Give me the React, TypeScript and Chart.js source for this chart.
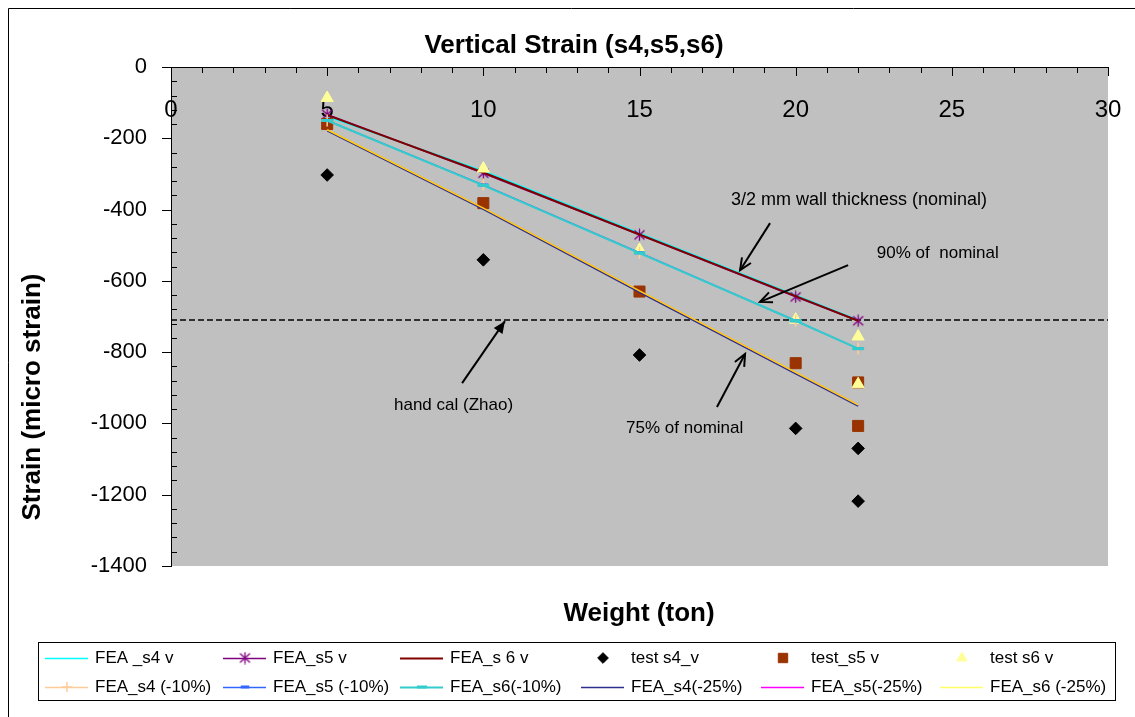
import React, { useEffect, useRef } from 'react';
import { Chart, registerables } from 'chart.js';
import { drawPoint } from 'chart.js/helpers';

Chart.register(...registerables);

// Applied load (ton) for the FEA runs and for the test readings
const weightFEA = [5, 10, 15, 20, 22];
const weightTest = [5, 10, 15, 20, 22, 22];

// FEA results, nominal wall thickness
const feaS4 = [-139, -292, -466, -640, -710];
const feaS5 = [-133, -298, -471, -645, -712];
const feaS6 = [-135, -296, -470, -643, -712];

// Measured strains
const testS4 = [-303, -541, -808, -1014, -1070, -1218];
const testS5 = [-160, -382, -630, -831, -885, -1007];
const testS6 = [-87, -285, -513, -709, -756, -890];

// FEA results, wall thickness reduced by 10 % and 25 %
const feaS4m10 = [-150, -330, -521, -712, -790];
const feaS5m10 = [-150, -331, -521, -712, -790];
const feaS6m10 = [-150, -332, -522, -712, -790];
const feaS4m25 = [-179, -399, -632, -861, -951];
const feaS5m25 = [-176, -396, -628, -857, -948];
const feaS6m25 = [-176, -396, -628, -857, -948];

// Hand calculation (Zhao)
const handCal = -710;

// Axis ranges
const xRange = [0, 30];
const xStep = 5;
const yRange = [-1400, 0];
const yStep = 200;

const FONT = "'Liberation Sans', Arial, Helvetica, sans-serif";

// Callouts, anchored in data units: [x, y]
const callouts = [
  { text: '3/2 mm wall thickness (nominal)', at: [17.93, -373], from: [19.18, -438], to: [18.22, -570], filled: false, size: 18 },
  { text: '90% of  nominal', at: [22.6, -522], from: [21.68, -556], to: [18.86, -659], filled: false, size: 17 },
  { text: 'hand cal (Zhao)', at: [7.14, -948], from: [9.32, -887], to: [10.69, -713], filled: true, size: 17 },
  { text: '75% of nominal', at: [14.57, -1014], from: [17.48, -954], to: [18.38, -805], filled: false, size: 17 },
];

const pts = (xs: number[], ys: number[]) => xs.map((x, i) => ({ x, y: ys[i] }));

function makeStar(color: string) {
  const c = document.createElement('canvas');
  c.width = 13;
  c.height = 13;
  const g = c.getContext('2d')!;
  g.strokeStyle = color;
  g.lineWidth = 1.3;
  g.beginPath();
  g.moveTo(6.5, 0.5);
  g.lineTo(6.5, 12.5);
  g.moveTo(1.5, 2);
  g.lineTo(11.5, 11);
  g.moveTo(11.5, 2);
  g.lineTo(1.5, 11);
  g.stroke();
  return c;
}

function drawArrow(ctx: CanvasRenderingContext2D, x1: number, y1: number, x2: number, y2: number, filled: boolean) {
  const ang = Math.atan2(y2 - y1, x2 - x1);
  const L = 13;
  const spread = 0.42;
  const ax = x2 - L * Math.cos(ang - spread);
  const ay = y2 - L * Math.sin(ang - spread);
  const bx = x2 - L * Math.cos(ang + spread);
  const by = y2 - L * Math.sin(ang + spread);
  ctx.beginPath();
  ctx.moveTo(x1, y1);
  ctx.lineTo(x2, y2);
  ctx.stroke();
  ctx.beginPath();
  ctx.moveTo(ax, ay);
  ctx.lineTo(x2, y2);
  ctx.lineTo(bx, by);
  if (filled) {
    ctx.closePath();
    ctx.fill();
  } else {
    ctx.stroke();
  }
}

const decorPlugin = {
  id: 'decor',
  beforeDraw(chart: any) {
    const { ctx, chartArea: a, width, height } = chart;
    ctx.save();
    ctx.fillStyle = '#ffffff';
    ctx.fillRect(0, 0, width, height);
    ctx.fillStyle = '#C0C0C0';
    ctx.fillRect(a.left, a.top, a.right - a.left, a.bottom - a.top);
    ctx.strokeStyle = '#000';
    ctx.lineWidth = 1;
    ctx.beginPath();
    ctx.moveTo(0.5, height);
    ctx.lineTo(0.5, 0.5);
    ctx.lineTo(width, 0.5);
    ctx.stroke();
    ctx.restore();
  },
  afterDatasetsDraw(chart: any) {
    const { ctx, chartArea: a, scales } = chart;
    const xs = scales.x;
    const ys = scales.y;
    ctx.save();
    // axis tick marks (major and minor)
    ctx.strokeStyle = '#000';
    ctx.lineWidth = 1;
    ctx.beginPath();
    for (let v = xRange[0]; v <= xRange[1]; v += 1) {
      const px = Math.round(xs.getPixelForValue(v)) + 0.5;
      const len = v % xStep === 0 ? 9 : 6;
      ctx.moveTo(px, a.top);
      ctx.lineTo(px, a.top + len);
    }
    for (let v = yRange[1]; v >= yRange[0]; v -= 40) {
      const py = Math.round(ys.getPixelForValue(v)) + 0.5;
      if (v % yStep === 0) {
        ctx.moveTo(a.left - 9, py);
        ctx.lineTo(a.left, py);
      } else {
        ctx.moveTo(a.left, py);
        ctx.lineTo(a.left + 6, py);
      }
    }
    ctx.stroke();

    // callouts
    ctx.fillStyle = '#000';
    ctx.strokeStyle = '#000';
    ctx.lineWidth = 2;
    ctx.textAlign = 'left';
    ctx.textBaseline = 'middle';
    for (const c of callouts) {
      drawArrow(
        ctx,
        xs.getPixelForValue(c.from[0]), ys.getPixelForValue(c.from[1]),
        xs.getPixelForValue(c.to[0]), ys.getPixelForValue(c.to[1]),
        c.filled,
      );
      ctx.font = `${c.size}px ${FONT}`;
      ctx.fillText(c.text, xs.getPixelForValue(c.at[0]), ys.getPixelForValue(c.at[1]));
    }
    ctx.restore();
  },
  afterDraw(chart: any) {
    const { ctx } = chart;
    ctx.save();
    ctx.fillStyle = '#000';
    ctx.textAlign = 'center';
    ctx.textBaseline = 'middle';
    ctx.font = `bold 26px ${FONT}`;
    ctx.fillText('Vertical Strain (s4,s5,s6)', 566, 38);
    ctx.fillText('Weight (ton)', 631, 606);
    ctx.save();
    ctx.translate(25, 389);
    ctx.rotate(-Math.PI / 2);
    ctx.fillText('Strain (micro strain)', 0, 0);
    ctx.restore();

    // legend
    ctx.strokeStyle = '#000';
    ctx.lineWidth = 1;
    ctx.strokeRect(30.5, 634.5, 1077, 58);
    const colX = [87, 265, 442, 623, 803, 982];
    const rowY = [650, 679];
    const items = chart.data.datasets.filter((d: any) => !d.noLegend);
    ctx.font = `17px ${FONT}`;
    ctx.textAlign = 'left';
    items.forEach((d: any, i: number) => {
      const tx = colX[i % 6];
      const ty = rowY[Math.floor(i / 6)];
      if (d.showLine) {
        ctx.strokeStyle = d.legendColor || d.borderColor;
        ctx.lineWidth = Math.max(1.5, d.borderWidth);
        ctx.beginPath();
        ctx.moveTo(tx - 50, ty + 0.5);
        ctx.lineTo(tx - 7, ty + 0.5);
        ctx.stroke();
      }
      if (d.pointRadius > 0) {
        ctx.fillStyle = d.pointBackgroundColor || d.borderColor;
        ctx.strokeStyle = d.pointBorderColor || d.borderColor;
        ctx.lineWidth = d.pointBorderWidth ?? 1;
        drawPoint(ctx, {
          pointStyle: d.pointStyle,
          radius: d.pointRadius * 0.85,
          rotation: 0,
          borderWidth: d.pointBorderWidth ?? 1,
        } as any, tx - 28, ty);
      }
      ctx.fillStyle = '#000';
      ctx.fillText(d.label, tx, ty);
    });
    ctx.restore();
  },
};

export default function App() {
  const canvasRef = useRef<HTMLCanvasElement | null>(null);

  useEffect(() => {
    const canvas = canvasRef.current;
    if (!canvas) return;
    const star = makeStar('#800080');

    const lineSet = (label: string, ys: number[], color: string, width: number, extra: any = {}) => ({
      label,
      data: pts(weightFEA, ys),
      showLine: true,
      borderColor: color,
      backgroundColor: color,
      borderWidth: width,
      pointRadius: 0,
      ...extra,
    });
    const markSet = (label: string, ys: number[], style: any, radius: number, fill: string) => ({
      label,
      data: pts(weightTest, ys),
      showLine: false,
      borderColor: fill,
      backgroundColor: fill,
      pointStyle: style,
      pointRadius: radius,
      pointBackgroundColor: fill,
      pointBorderColor: fill,
      pointBorderWidth: 1,
    });

    const datasets: any[] = [
      lineSet('FEA _s4 v', feaS4, '#00FFFF', 1.5),
      lineSet('FEA_s5 v', feaS5, '#800080', 1.5, {
        pointStyle: star, pointRadius: 6, pointBorderColor: '#800080', pointBackgroundColor: '#800080', pointBorderWidth: 1,
      }),
      lineSet('FEA_s 6 v', feaS6, '#800000', 2),
      markSet('test s4_v', testS4, 'rectRot', 6.3, '#000000'),
      markSet('test_s5 v', testS5, 'rect', 7.8, '#993300'),
      markSet('test s6 v', testS6, 'triangle', 7, '#FFFF99'),
      lineSet('FEA_s4 (-10%)', feaS4m10, '#FFCC99', 1.5, {
        pointStyle: 'cross', pointRadius: 6, pointBorderColor: '#FFCC99', pointBackgroundColor: '#FFCC99', pointBorderWidth: 1.5,
      }),
      lineSet('FEA_s5 (-10%)', feaS5m10, '#3366FF', 1.5, {
        pointStyle: 'line', pointRadius: 5, pointBorderColor: '#3366FF', pointBackgroundColor: '#3366FF', pointBorderWidth: 3,
      }),
      lineSet('FEA_s6(-10%)', feaS6m10, '#33CCCC', 2, {
        pointStyle: 'line', pointRadius: 6, pointBorderColor: '#33CCCC', pointBackgroundColor: '#33CCCC', pointBorderWidth: 3,
      }),
      lineSet('FEA_s4(-25%)', feaS4m25, '#2E2E8F', 1.5),
      lineSet('FEA_s5(-25%)', feaS5m25, '#FF00FF', 1),
      lineSet('FEA_s6 (-25%)', feaS6m25, '#FFD200', 1.5, { legendColor: '#FFFF66' }),
      {
        label: 'hand cal (Zhao)',
        noLegend: true,
        data: [{ x: xRange[0], y: handCal }, { x: xRange[1], y: handCal }],
        showLine: true,
        borderColor: '#000',
        borderWidth: 1.5,
        borderDash: [6, 3],
        pointRadius: 0,
      },
    ];
    // later series are painted over earlier ones
    datasets.forEach((d, i) => { d.order = d.noLegend ? 100 : -i; });

    const chart = new Chart(canvas, {
      type: 'scatter',
      data: { datasets },
      options: {
        responsive: false,
        animation: false,
        devicePixelRatio: 1,
        events: [],
        layout: { padding: { top: 59, left: 0, right: 27, bottom: 151 } },
        plugins: {
          legend: { display: false },
          title: { display: false },
          tooltip: { enabled: false },
        },
        scales: {
          x: {
            type: 'linear',
            position: 'top',
            z: 1,
            min: xRange[0],
            max: xRange[1],
            ticks: {
              stepSize: xStep,
              mirror: true,
              padding: 29,
              color: '#000',
              font: { size: 24, family: FONT },
              maxRotation: 0,
              autoSkip: false,
              callback: (v: any) => String(v),
            },
            grid: { display: false, drawTicks: false },
            border: { display: true, color: '#000', width: 1 },
            afterFit: (s: any) => { s.height = 0; s.paddingLeft = 0; s.paddingRight = 0; },
          },
          y: {
            type: 'linear',
            position: 'left',
            min: yRange[0],
            max: yRange[1],
            ticks: {
              stepSize: yStep,
              padding: 24,
              color: '#000',
              font: { size: 22, family: FONT },
              callback: (v: any) => String(v),
            },
            grid: { display: false, drawTicks: false },
            border: { display: true, color: '#000', width: 1 },
            afterFit: (s: any) => { s.width = 163; s.paddingTop = 0; s.paddingBottom = 0; },
          },
        },
      } as any,
      plugins: [decorPlugin],
    });
    return () => chart.destroy();
  }, []);

  return (
    <div style={{ position: 'fixed', left: 8, top: 8, width: 1127, height: 709 }}>
      <canvas ref={canvasRef} width={1127} height={709} style={{ display: 'block' }} />
    </div>
  );
}
